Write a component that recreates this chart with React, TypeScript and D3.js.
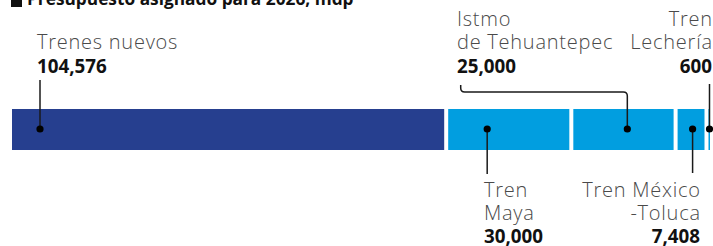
import React from "react";
import * as d3 from "d3";

const categories = ["Trenes nuevos", "Tren Maya", "Istmo de Tehuantepec", "Tren México-Toluca", "Tren Lechería"];
const values = [104576, 30000, 25000, 7408, 600];
const labelLines = [["Trenes nuevos"], ["Tren", "Maya"], ["Istmo", "de Tehuantepec"], ["Tren México", "-Toluca"], ["Tren", "Lechería"]];
const valueLabels = ["104,576", "30,000", "25,000", "7,408", "600"];
const title = "Presupuesto asignado para 2026, mdp";

const W = 713, H = 246;
const barTop = 109, barH = 41, gap = 4;
const DARK = "#263f8f", LIGHT = "#019ee0";
const FONT = "'Open Sans', sans-serif";

// annotation layout (pixel placement of label blocks and leader lines)
const layout = [
  { dotOff: 28, side: "top", tx: 37, anchor: "start", lead: [80] },
  { dotOff: 39, side: "bottom", tx: 484, anchor: "start", lead: [174] },
  { dotOff: 54, side: "top", tx: 457, anchor: "start", lead: [92, 460.7, 85] },
  { dotOff: 15, side: "bottom", tx: 700, anchor: "end", lead: [173] },
  { dotOff: 1, side: "top", tx: 712, anchor: "end", lead: [84] },
];

export default function App() {
  const total = d3.sum(values);
  const x = d3.scaleLinear().domain([0, total]).range([12, 711]);
  const cum = d3.cumsum(values);
  const segs = values.map((v, i) => {
    const start = i === 0 ? 0 : cum[i - 1];
    const x0 = x(start);
    const w = Math.max(x(start + v) - x0 - gap, 1.5);
    return { v, i, x0, w };
  });
  const dotY = barTop + barH / 2 - 0.5;

  return (
    <div style={{ position: "fixed", left: 0, top: 0 }}>
      <svg width={W} height={H} style={{ display: "block", background: "#fff" }}>
        <rect x={11} y={-6} width={11} height={13} fill="#111" />
        <text x={27} y={5} fontFamily={FONT} fontWeight={700} fontSize={17.3} fill="#111">{title}</text>
        {segs.map((s) => (
          <rect key={categories[s.i]} x={s.x0} y={barTop} width={s.w} height={barH}
            fill={s.i === 0 ? DARK : LIGHT} />
        ))}
        {segs.map((s) => {
          const L = layout[s.i];
          const dx = s.x0 + L.dotOff;
          const lines = labelLines[s.i];
          let path = "";
          if (L.lead.length === 1) {
            path = `M${dx},${dotY}V${L.lead[0]}`;
          } else {
            const [hy, lx, ty] = L.lead;
            const r = 4;
            path = `M${dx},${dotY}V${hy + r}Q${dx},${hy} ${dx - r},${hy}H${lx + r}Q${lx},${hy} ${lx},${hy - r}V${ty}`;
          }
          let baselines: number[];
          if (L.side === "top") {
            const numB = 72.8;
            baselines = lines.length === 1 ? [48.5, numB] : [26, 48.5, numB];
          } else {
            baselines = [196.5, 219.5, 242.5];
          }
          const endAdj = L.anchor === "end" ? 0.75 : 0;
          return (
            <g key={"a" + s.i}>
              <path d={path} fill="none" stroke="#1a1a1a" strokeWidth={1.5} />
              <circle cx={dx} cy={dotY} r={3.6} fill="#000" />
              {lines.map((ln, j) => (
                <text key={j} x={L.tx + endAdj} y={baselines[j]} textAnchor={L.anchor} fontFamily={FONT}
                  fontWeight={300} fontSize={20} letterSpacing={0.75} fill="#4a4a4a">{ln}</text>
              ))}
              <text x={L.tx} y={baselines[lines.length]} textAnchor={L.anchor} fontFamily={FONT}
                fontWeight={700} fontSize={18.8} fill="#111">{valueLabels[s.i]}</text>
            </g>
          );
        })}
      </svg>
    </div>
  );
}
